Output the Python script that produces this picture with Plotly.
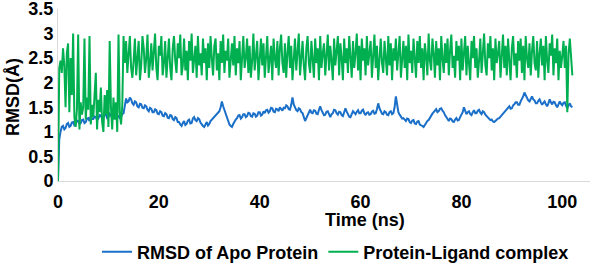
import plotly.graph_objects as go

# Sampling interval (ns)
time_step_ns = 0.25

# RMSD of Apo protein (Å), one value every 0.25 ns from 0 to 102 ns
apo_rmsd = [
    0.00, 0.85, 1.00, 1.10, 1.12, 1.05, 1.08, 1.16, 1.18, 1.10, 1.12, 1.19, 1.20, 1.13, 1.15, 1.23, 1.22, 1.16, 1.18, 1.24,
    1.25, 1.18, 1.20, 1.27, 1.28, 1.22, 1.32, 1.26, 1.26, 1.31, 1.30, 1.24, 1.27, 1.34, 1.33, 1.27, 1.29, 1.36, 1.35, 1.28,
    1.30, 1.37, 1.34, 1.27, 1.28, 1.35, 1.36, 1.30, 1.32, 1.28, 1.30, 1.36, 1.38, 1.52, 1.68, 1.60, 1.62, 1.70, 1.66, 1.58,
    1.55, 1.62, 1.60, 1.52, 1.50, 1.57, 1.56, 1.49, 1.48, 1.54, 1.52, 1.45, 1.42, 1.49, 1.47, 1.40, 1.40, 1.46, 1.44, 1.37,
    1.36, 1.42, 1.40, 1.33, 1.32, 1.38, 1.36, 1.29, 1.28, 1.34, 1.33, 1.26, 1.24, 1.30, 1.28, 1.20, 1.20, 1.15, 1.12, 1.18,
    1.22, 1.14, 1.16, 1.23, 1.25, 1.17, 1.18, 1.27, 1.30, 1.24, 1.22, 1.28, 1.26, 1.19, 1.15, 1.12, 1.10, 1.16, 1.20, 1.13,
    1.16, 1.22, 1.25, 1.29, 1.30, 1.35, 1.36, 1.40, 1.42, 1.50, 1.62, 1.52, 1.45, 1.36, 1.28, 1.20, 1.15, 1.12, 1.10, 1.16,
    1.22, 1.25, 1.28, 1.33, 1.34, 1.27, 1.30, 1.36, 1.36, 1.30, 1.32, 1.39, 1.38, 1.32, 1.31, 1.38, 1.37, 1.31, 1.33, 1.40,
    1.40, 1.33, 1.35, 1.42, 1.38, 1.44, 1.45, 1.39, 1.42, 1.49, 1.48, 1.41, 1.40, 1.47, 1.46, 1.42, 1.50, 1.45, 1.43, 1.49,
    1.48, 1.54, 1.52, 1.46, 1.45, 1.55, 1.70, 1.56, 1.50, 1.44, 1.42, 1.48, 1.46, 1.40, 1.38, 1.30, 1.22, 1.28, 1.35, 1.41,
    1.45, 1.39, 1.38, 1.44, 1.43, 1.37, 1.36, 1.45, 1.52, 1.44, 1.40, 1.34, 1.35, 1.41, 1.42, 1.35, 1.30, 1.36, 1.38, 1.45,
    1.44, 1.38, 1.35, 1.41, 1.40, 1.34, 1.32, 1.40, 1.48, 1.41, 1.36, 1.31, 1.30, 1.37, 1.42, 1.39, 1.36, 1.41, 1.44, 1.38,
    1.38, 1.43, 1.45, 1.38, 1.34, 1.39, 1.40, 1.35, 1.36, 1.41, 1.43, 1.37, 1.38, 1.46, 1.58, 1.48, 1.42, 1.37, 1.36, 1.42,
    1.40, 1.35, 1.34, 1.40, 1.42, 1.36, 1.38, 1.50, 1.72, 1.52, 1.40, 1.35, 1.32, 1.27, 1.28, 1.24, 1.22, 1.27, 1.26, 1.20,
    1.18, 1.23, 1.24, 1.17, 1.16, 1.21, 1.22, 1.15, 1.14, 1.12, 1.10, 1.15, 1.18, 1.22, 1.24, 1.29, 1.32, 1.37, 1.40, 1.44,
    1.46, 1.40, 1.42, 1.47, 1.48, 1.43, 1.40, 1.34, 1.30, 1.25, 1.22, 1.27, 1.26, 1.21, 1.20, 1.25, 1.28, 1.23, 1.24, 1.30,
    1.34, 1.40, 1.50, 1.41, 1.36, 1.40, 1.42, 1.36, 1.34, 1.40, 1.44, 1.38, 1.38, 1.43, 1.45, 1.39, 1.36, 1.42, 1.40, 1.35,
    1.32, 1.29, 1.28, 1.24, 1.25, 1.21, 1.20, 1.23, 1.24, 1.27, 1.28, 1.31, 1.32, 1.36, 1.38, 1.42, 1.45, 1.49, 1.52, 1.47,
    1.48, 1.54, 1.56, 1.60, 1.60, 1.55, 1.55, 1.62, 1.66, 1.72, 1.80, 1.74, 1.70, 1.64, 1.62, 1.68, 1.72, 1.66, 1.64, 1.58,
    1.58, 1.63, 1.66, 1.60, 1.55, 1.59, 1.62, 1.56, 1.52, 1.58, 1.66, 1.60, 1.56, 1.61, 1.60, 1.54, 1.50, 1.56, 1.62, 1.57,
    1.54, 1.59, 1.60, 1.53, 1.48, 1.54, 1.58, 1.52, 1.50,
]

# RMSD of Protein-Ligand complex (Å), one value every 0.25 ns from 0 to 102 ns
complex_rmsd = [
    0.00, 2.30, 2.45, 2.20, 2.70, 2.35, 1.50, 2.60, 2.80, 1.40, 2.50, 1.75, 3.00, 1.30, 1.10, 1.45, 2.98, 1.05, 1.60, 1.35,
    1.50, 2.90, 1.25, 1.70, 1.45, 2.95, 1.15, 1.55, 1.30, 1.80, 2.20, 1.05, 1.65, 1.40, 1.90, 1.20, 1.00, 1.75, 1.35, 1.85,
    1.10, 2.85, 1.50, 1.05, 1.70, 1.25, 1.60, 1.00, 2.98, 1.40, 1.15, 1.55, 2.95, 2.40, 2.85, 2.20, 2.65, 2.95, 2.30, 2.10,
    2.45, 2.90, 2.15, 2.60, 2.85, 2.05, 2.35, 2.95, 2.70, 2.20, 2.50, 2.98, 2.10, 2.40, 2.80, 2.25, 2.65, 3.00, 2.30, 2.05,
    2.75, 2.55, 2.95, 2.15, 2.40, 2.85, 2.10, 2.60, 2.90, 2.30, 2.05, 2.70, 2.95, 2.45, 2.20, 2.80, 2.50, 2.98, 2.15, 2.35,
    2.90, 2.25, 2.65, 2.05, 2.85, 2.45, 3.00, 2.20, 2.55, 2.75, 2.10, 2.95, 2.35, 2.60, 2.15, 2.90, 2.40, 2.70, 2.05, 2.80,
    2.30, 2.95, 2.50, 2.15, 2.75, 2.90, 2.25, 2.60, 2.05, 2.85, 2.40, 2.98, 2.20, 2.65, 2.45, 2.90, 2.10, 2.55, 2.80, 2.35,
    2.95, 2.15, 2.70, 2.40, 2.85, 2.05, 2.60, 2.95, 2.30, 2.50, 2.90, 2.20, 2.75, 2.10, 2.45, 3.00, 2.25, 2.65, 2.85, 2.05,
    2.55, 2.90, 2.35, 2.80, 2.10, 2.65, 2.95, 2.20, 2.45, 2.75, 2.05, 2.90, 2.50, 2.30, 2.85, 2.15, 2.70, 2.98, 2.40, 2.20,
    2.80, 2.10, 2.60, 2.95, 2.30, 2.75, 2.05, 2.50, 2.90, 2.25, 2.65, 3.00, 2.15, 2.45, 2.85, 2.35, 2.05, 2.70, 2.95, 2.40,
    2.20, 2.85, 2.55, 2.10, 2.90, 2.40, 2.70, 2.05, 2.95, 2.30, 2.60, 2.80, 2.15, 2.50, 2.98, 2.25, 2.75, 2.45, 2.05, 2.90,
    2.35, 2.65, 2.95, 2.15, 2.80, 2.50, 2.05, 2.90, 2.40, 2.70, 2.20, 2.95, 2.55, 2.10, 2.85, 2.30, 2.60, 3.00, 2.25, 2.75,
    2.05, 2.90, 2.45, 2.70, 2.15, 2.95, 2.35, 2.60, 2.85, 2.10, 2.50, 2.98, 2.30, 2.75, 2.05, 2.65, 2.90, 2.40, 2.20, 2.85,
    2.55, 2.15, 2.95, 2.35, 2.80, 2.05, 2.70, 2.45, 2.90, 2.25, 2.60, 2.95, 2.10, 2.50, 2.85, 2.30, 2.75, 2.05, 2.98, 2.40,
    2.65, 2.20, 2.90, 2.50, 2.10, 2.85, 2.40, 2.95, 2.30, 2.70, 2.05, 2.80, 2.55, 2.15, 3.00, 2.45, 2.25, 2.90, 2.60, 2.10,
    2.85, 2.35, 2.70, 2.05, 2.95, 2.50, 2.20, 2.80, 2.40, 2.90, 2.15, 2.65, 2.98, 2.30, 2.55, 2.10, 2.85, 2.45, 2.75, 2.05,
    2.90, 2.25, 2.60, 2.95, 2.15, 2.75, 2.40, 2.05, 2.85, 2.50, 2.95, 2.30, 2.70, 2.10, 2.45, 2.90, 2.20, 2.65, 3.00, 2.35,
    2.15, 2.80, 2.50, 2.95, 2.25, 2.70, 2.05, 2.90, 2.40, 2.60, 2.85, 2.10, 2.55, 2.98, 2.30, 2.75, 2.15, 2.90, 2.45, 2.05,
    2.70, 2.95, 2.35, 2.60, 2.10, 2.85, 2.45, 2.90, 2.20, 2.75, 2.05, 2.95, 2.50, 2.30, 2.80, 2.15, 2.65, 2.95, 2.40, 2.25,
    2.85, 2.10, 2.60, 2.90, 2.35, 2.75, 2.05, 2.95, 2.45, 2.20, 2.80, 2.55, 2.98, 2.15, 2.70, 2.40, 2.90, 2.05, 2.65, 2.30,
    2.55, 2.85, 2.30, 2.75, 1.40, 2.60, 2.90, 2.40, 2.15,
]

x_ticks = [0, 20, 40, 60, 80, 100]
y_ticks = [0, 0.5, 1, 1.5, 2, 2.5, 3, 3.5]
y_tick_labels = ["0", "0.5", "1", "1.5", "2", "2.5", "3", "3.5"]

series_names = ["RMSD of Apo Protein", "Protein-Ligand complex"]
series_colors = ["#1A6FC8", "#00B050"]

apo_time = [i * time_step_ns for i in range(len(apo_rmsd))]
complex_time = [i * time_step_ns for i in range(len(complex_rmsd))]

FONT = "Liberation Sans, Arial, sans-serif"
FS = 18
W, H = 597, 265
ML, MR, MT, MB = 58, 7, 9, 84
PW, PH = W - ML - MR, H - MT - MB

fig = go.Figure()
for name, xs, vals, col in zip(series_names, [apo_time, complex_time],
                               [apo_rmsd, complex_rmsd], series_colors):
    fig.add_trace(go.Scatter(
        x=xs, y=vals, mode="lines", name=name,
        line=dict(color=col, width=2),
    ))

axis_common = dict(
    showgrid=False, zeroline=False, showline=True, automargin=False,
    linecolor="#D9D9D9", linewidth=1, ticks="", ticklabeloverflow="allow",
    tickfont=dict(family=FONT, size=FS, color="#000000", weight="bold"),
)

fig.update_layout(
    width=W, height=H,
    margin=dict(l=ML, r=MR, t=MT, b=MB),
    paper_bgcolor="white", plot_bgcolor="white",
    showlegend=True,
    legend=dict(
        orientation="h", xref="container", yref="container",
        x=97 / W, xanchor="left", y=(H - 252) / H, yanchor="middle",
        font=dict(family=FONT, size=FS, color="#000000", weight="bold"),
        itemwidth=30, bgcolor="rgba(0,0,0,0)",
    ),
    xaxis=dict(range=[0, 105.5], tickvals=x_ticks, ticklabelstandoff=4, **axis_common),
    yaxis=dict(range=[0, 3.5], tickvals=y_ticks, ticktext=y_tick_labels, **axis_common),
    annotations=[
        dict(text="Time (ns)", xref="paper", yref="paper",
             x=(365 - ML) / PW, y=(MT + PH - 220) / PH,
             xanchor="center", yanchor="middle", showarrow=False,
             font=dict(family=FONT, size=FS, color="#000000", weight="bold")),
        dict(text="RMSD(Å)", xref="paper", yref="paper",
             x=(13 - ML) / PW, y=(MT + PH - 97) / PH, textangle=-90,
             xanchor="center", yanchor="middle", showarrow=False,
             font=dict(family=FONT, size=FS, color="#000000", weight="bold")),
    ],
)

fig.write_html("out.html", config={"displayModeBar": False},
               post_script="document.body.style.margin='0';")
